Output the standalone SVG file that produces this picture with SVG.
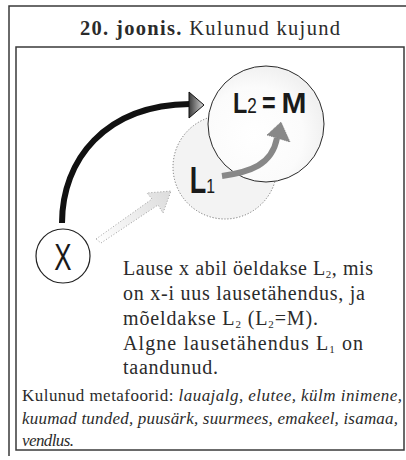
<svg xmlns="http://www.w3.org/2000/svg" width="406" height="460" viewBox="0 0 406 460">
<style>
.frame{fill:none;stroke:#3a3a3a;stroke-width:1.5}
.serif{font-family:"Liberation Serif","Times New Roman",serif;fill:#2b2b2b}
.sans{font-family:"Liberation Sans",Arial,sans-serif;fill:#1a1a1a}
.sub{font-size:11px}
</style>
<defs>
<linearGradient id="headG" x1="0" y1="0" x2="1" y2="0">
<stop offset="0" stop-color="#3a3a3a"/><stop offset="1" stop-color="#d8d8d8"/>
</linearGradient>
<linearGradient id="lightG" x1="96" y1="240" x2="171" y2="192" gradientUnits="userSpaceOnUse">
<stop offset="0" stop-color="#ffffff"/><stop offset="1" stop-color="#dcdcdc"/>
</linearGradient>
<radialGradient id="l2G" cx="0.4" cy="0.6" r="0.6">
<stop offset="0" stop-color="#ffffff"/><stop offset="0.7" stop-color="#fbfbfb"/><stop offset="1" stop-color="#f1f1f1"/>
</radialGradient>
</defs>
<rect width="406" height="460" fill="#ffffff"/>
<path class="frame" d="M9,456 V6 H412" stroke="#555"/>
<rect class="frame" x="16" y="47" width="388" height="403"/>
<text class="serif" x="80" y="35" font-size="20.5" textLength="260" lengthAdjust="spacing"><tspan font-weight="bold">20. joonis.</tspan> Kulunud kujund</text>

<g id="connectors">
<path d="M62,223 C62,160 105,105 190,104" fill="none" stroke="#111" stroke-width="6"/>
<polygon points="189,92 204,105 189,118" fill="url(#headG)" stroke="#111" stroke-width="1"/>
<polygon points="96,239 152,199 147,193 171,191 163,213 158,205 101,243" fill="url(#lightG)" stroke="#888" stroke-width="0.8" stroke-dasharray="1,2"/>
</g>

<g id="node-L1">
<circle cx="225" cy="167" r="52" fill="#f3f3f3" stroke="#777" stroke-width="1" stroke-dasharray="1.2,1.8"/>
</g>
<g id="node-L2">
<circle cx="266" cy="124" r="58" fill="url(#l2G)" stroke="#2a2a2a" stroke-width="1"/>
<text class="sans" transform="scale(0.78,1)"><tspan x="298.7" y="113" font-size="30" font-weight="bold">L</tspan><tspan x="317" y="113" font-size="22">2</tspan><tspan x="336" y="113" font-size="30" font-weight="bold">=</tspan><tspan x="361" y="113" font-size="30" font-weight="bold" textLength="32" lengthAdjust="spacingAndGlyphs">M</tspan></text>
</g>
<g id="L1-label">
<text class="sans" transform="scale(0.75,1)"><tspan x="253" y="193" font-size="36" font-weight="bold">L</tspan><tspan x="275" y="193" font-size="21">1</tspan></text>
<path d="M222,176 C250,172 272,165 277,138" fill="none" stroke="#888" stroke-width="6"/>
<polygon points="267,135 281,122 290,142" fill="#888" stroke="#777" stroke-width="0.8" stroke-dasharray="1,1"/>
</g>

<g id="node-X">
<circle cx="63" cy="256" r="27" fill="#ffffff" stroke="#222" stroke-width="1.2"/>
<text class="sans" transform="scale(0.7,1)" x="90" y="270" font-size="37" text-anchor="middle">X</text>
</g>

<g id="body-text" class="serif" font-size="20">
<text x="123" y="275" textLength="250" lengthAdjust="spacing">Lause x abil öeldakse L<tspan class="sub" dy="3">2</tspan><tspan dy="-3">, mis</tspan></text>
<text x="123" y="300" textLength="242" lengthAdjust="spacing">on x-i uus lausetähendus, ja</text>
<text x="123" y="325" textLength="195" lengthAdjust="spacing">mõeldakse L<tspan class="sub" dy="3">2</tspan><tspan dy="-3"> (L</tspan><tspan class="sub" dy="3">2</tspan><tspan dy="-3">=M).</tspan></text>
<text x="123" y="349.5" textLength="240" lengthAdjust="spacing">Algne lausetähendus L<tspan class="sub" dy="3">1</tspan><tspan dy="-3"> on</tspan></text>
<text x="123" y="374" textLength="95" lengthAdjust="spacing">taandunud.</text>
</g>

<g id="caption" class="serif" font-size="17">
<text x="22" y="401" textLength="380" lengthAdjust="spacing">Kulunud metafoorid: <tspan font-style="italic">lauajalg, elutee, külm inimene,</tspan></text>
<text x="22" y="424" font-style="italic" textLength="376" lengthAdjust="spacing">kuumad tunded, puusärk, suurmees, emakeel, isamaa,</text>
<text x="22" y="446" font-style="italic" textLength="52" lengthAdjust="spacing">vendlus.</text>
</g>
</svg>
